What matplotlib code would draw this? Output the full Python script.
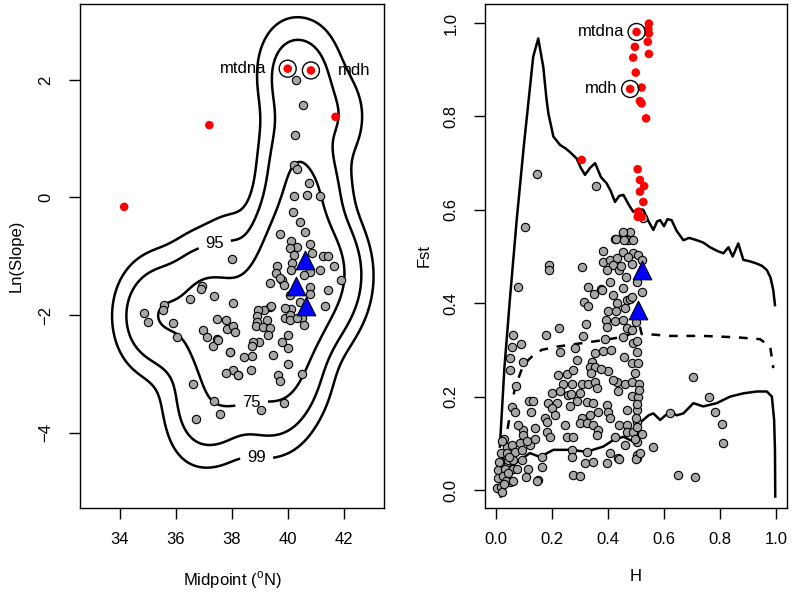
import matplotlib
matplotlib.use("Agg")
import matplotlib.pyplot as plt
import numpy as np

plt.rcParams['font.family'] = ['Liberation Sans', 'DejaVu Sans']
plt.rcParams['mathtext.fontset'] = 'custom'
plt.rcParams['mathtext.rm'] = 'Liberation Sans'

# ---- left panel: cline midpoint vs ln(slope) ----
mid_gray = [40.29, 40.52, 40.25, 40.23, 40.31, 40.75, 40.21, 40.67, 41.14, 40.19,
            40.43, 40.61, 39.71, 40.10, 40.31, 40.79, 40.07, 40.23, 40.87, 41.24,
            41.42, 40.13, 39.62, 39.57, 41.14, 41.64, 40.79, 40.57, 41.88, 39.77,
            39.87, 39.36, 40.79, 40.79, 41.42, 40.43, 41.32, 40.10, 39.36, 39.15,
            38.92, 39.38, 39.89, 40.07, 40.07, 40.49, 40.57, 38.90, 38.88, 39.24,
            38.85, 39.10, 39.36, 39.27, 39.99, 39.77, 40.01, 38.96, 38.74, 38.70,
            39.48, 38.70, 38.44, 40.01, 38.68, 39.65, 39.71, 40.49, 38.05, 37.79,
            38.20, 37.93, 38.05, 37.48, 37.77, 37.81, 38.02, 38.11, 36.98, 37.10,
            37.48, 37.33, 37.37, 36.92, 36.89, 36.50, 35.58, 35.55, 34.86, 35.01,
            35.90, 36.02, 36.62, 37.36, 36.71, 37.57, 39.03, 39.86, 37.99, 37.51,
            37.94, 38.22, 39.71, 40.11, 40.07, 39.89, 40.31]
slope_gray = [1.99, 1.57, 1.06, 0.56, 0.48, 0.24, 0.02, 0.04, 0.02, -0.25,
              -0.42, -0.58, -0.62, -0.74, -0.84, -0.79, -0.86, -0.97, -0.94, -1.00,
              -1.00, -1.11, -1.17, -1.29, -1.23, -1.17, -1.26, -1.31, -1.41, -1.40,
              -1.48, -1.45, -1.52, -1.64, -1.58, -1.77, -1.85, -1.90, -1.86, -1.91,
              -1.91, -1.84, -2.05, -1.99, -2.09, -2.05, -2.16, -2.02, -2.11, -2.08,
              -2.19, -2.20, -2.22, -2.33, -2.33, -2.46, -2.56, -2.45, -2.45, -2.53,
              -2.67, -2.70, -2.72, -2.83, -2.94, -3.02, -3.12, -3.00, -2.93, -2.98,
              -3.02, -2.63, -1.79, -2.06, -2.08, -2.24, -2.19, -2.29, -2.26, -2.37,
              -2.41, -2.53, -1.68, -1.50, -1.56, -1.72, -1.83, -1.91, -1.97, -2.12,
              -2.13, -2.37, -3.17, -3.46, -3.76, -3.68, -3.62, -3.50, -1.04, -2.42,
              -2.62, -3.02, -1.37, -1.23, -1.65, -1.88, -2.05]
mid_red = [39.99, 40.82, 41.70, 37.19, 34.15]
slope_red = [2.19, 2.16, 1.37, 1.23, -0.16]
mid_tri = [40.61, 40.29, 40.64]
slope_tri = [-1.07, -1.51, -1.85]
left_labels = ['mtdna', 'mdh']
contour_pct = [99, 95, 75]

# ---- right panel: H vs Fst ----
h_gray = [0.104, 0.190, 0.190, 0.306, 0.080, 0.330, 0.374, 0.425, 0.452, 0.479,
          0.470, 0.490, 0.383, 0.455, 0.490, 0.508, 0.381, 0.407, 0.431, 0.419,
          0.485, 0.395, 0.440, 0.464, 0.502, 0.407, 0.455, 0.419, 0.520, 0.431,
          0.467, 0.479, 0.401, 0.429, 0.461, 0.315, 0.330, 0.393, 0.425, 0.395,
          0.455, 0.467, 0.485, 0.321, 0.225, 0.177, 0.062, 0.058, 0.088, 0.312,
          0.282, 0.389, 0.455, 0.490, 0.502, 0.383, 0.354, 0.229, 0.050, 0.098,
          0.288, 0.342, 0.457, 0.485, 0.508, 0.336, 0.354,
          0.050, 0.223, 0.252, 0.276, 0.238, 0.270, 0.306, 0.330, 0.354, 0.399,
          0.431, 0.461, 0.485, 0.419, 0.512, 0.071, 0.199, 0.229, 0.258, 0.300,
          0.360, 0.437, 0.485, 0.508, 0.119, 0.133, 0.187, 0.217, 0.264, 0.324,
          0.348, 0.395, 0.057, 0.068, 0.124, 0.199, 0.365, 0.401, 0.467, 0.502,
          0.175, 0.306, 0.336, 0.407, 0.181, 0.300, 0.324, 0.348, 0.365, 0.440,
          0.467, 0.502, 0.095, 0.139, 0.098, 0.181, 0.193, 0.252, 0.276, 0.360,
          0.425, 0.467, 0.490, 0.520, 0.038, 0.056, 0.086, 0.121, 0.018, 0.038,
          0.068, 0.092, 0.014, 0.044, 0.062, 0.092, 0.008, 0.032, 0.062, 0.074,
          0.008, 0.026, 0.044, 0.002, 0.017, 0.020, 0.050, 0.115, 0.151, 0.106,
          0.163, 0.163, 0.270, 0.270, 0.276, 0.300, 0.318, 0.348, 0.324, 0.395,
          0.407, 0.437, 0.502, 0.502, 0.461, 0.502,
          0.560, 0.651, 0.711, 0.702, 0.762, 0.782, 0.806, 0.812, 0.621, 0.500,
          0.439, 0.145, 0.356, 0.455, 0.428, 0.458, 0.526, 0.520, 0.377, 0.485,
          0.500, 0.505, 0.498, 0.510, 0.505, 0.500, 0.505, 0.497, 0.515, 0.148,
          0.030, 0.045, 0.022, 0.080, 0.036, 0.110, 0.140, 0.060, 0.012, 0.028,
          0.210, 0.245, 0.290, 0.340, 0.375, 0.410, 0.445, 0.470, 0.350, 0.268]
fst_gray = [0.564, 0.482, 0.471, 0.478, 0.435, 0.435, 0.430, 0.537, 0.550, 0.553,
            0.535, 0.535, 0.512, 0.510, 0.508, 0.503, 0.489, 0.492, 0.496, 0.482,
            0.485, 0.471, 0.471, 0.457, 0.446, 0.446, 0.433, 0.418, 0.425, 0.400,
            0.407, 0.410, 0.383, 0.384, 0.389, 0.403, 0.394, 0.364, 0.362, 0.350,
            0.364, 0.346, 0.343, 0.355, 0.348, 0.333, 0.332, 0.307, 0.312, 0.330,
            0.305, 0.323, 0.328, 0.314, 0.296, 0.298, 0.293, 0.295, 0.282, 0.275,
            0.278, 0.275, 0.285, 0.271, 0.271, 0.264, 0.264,
            0.257, 0.246, 0.248, 0.257, 0.228, 0.227, 0.227, 0.227, 0.232, 0.255,
            0.232, 0.228, 0.232, 0.236, 0.228, 0.223, 0.208, 0.213, 0.203, 0.207,
            0.218, 0.211, 0.201, 0.200, 0.191, 0.191, 0.186, 0.186, 0.180, 0.189,
            0.187, 0.181, 0.178, 0.168, 0.166, 0.175, 0.168, 0.168, 0.171, 0.171,
            0.154, 0.154, 0.161, 0.154, 0.146, 0.143, 0.144, 0.139, 0.128, 0.139,
            0.139, 0.146, 0.128, 0.132, 0.118, 0.125, 0.113, 0.113, 0.113, 0.118,
            0.114, 0.125, 0.125, 0.120, 0.093, 0.096, 0.100, 0.096, 0.079, 0.079,
            0.082, 0.086, 0.057, 0.064, 0.064, 0.064, 0.043, 0.046, 0.046, 0.046,
            0.025, 0.029, 0.036, 0.004, 0.007, -0.004, 0.018, 0.046, 0.021, 0.027,
            0.050, 0.071, 0.086, 0.071, 0.032, 0.029, 0.057, 0.061, 0.082, 0.057,
            0.079, 0.068, 0.068, 0.075, 0.096, 0.103,
            0.093, 0.032, 0.027, 0.243, 0.200, 0.168, 0.141, 0.100, 0.164, 0.066,
            0.066, 0.677, 0.652, 0.553, 0.537, 0.535, 0.582, 0.492, 0.428, 0.414,
            0.360, 0.320, 0.250, 0.215, 0.185, 0.155, 0.135, 0.110, 0.080, 0.020,
            0.110, 0.070, 0.105, 0.140, 0.020, 0.105, 0.110, 0.020, 0.060, 0.012,
            0.160, 0.140, 0.190, 0.250, 0.260, 0.300, 0.480, 0.500, 0.420, 0.205]
h_red = [0.502, 0.479, 0.546, 0.544, 0.546, 0.542, 0.496, 0.546, 0.490, 0.499,
         0.520, 0.514, 0.520, 0.536, 0.306, 0.506, 0.514, 0.529, 0.514, 0.526,
         0.508, 0.506, 0.520]
fst_red = [0.981, 0.859, 0.999, 0.988, 0.978, 0.960, 0.949, 0.934, 0.926, 0.894,
           0.862, 0.833, 0.828, 0.796, 0.707, 0.687, 0.664, 0.651, 0.639, 0.617,
           0.596, 0.585, 0.585]
h_tri = [0.520, 0.508]
fst_tri = [0.471, 0.385]

# simulated quantile envelopes
upper_h = [0.014, 0.030, 0.050, 0.074, 0.100, 0.133, 0.151, 0.169, 0.180, 0.187,
           0.205, 0.229, 0.250, 0.264, 0.288, 0.303, 0.318, 0.336, 0.354, 0.375,
           0.395, 0.410, 0.425, 0.440, 0.455, 0.475, 0.490, 0.510, 0.526, 0.545,
           0.562, 0.575, 0.586, 0.600, 0.612, 0.627, 0.645, 0.669, 0.690, 0.717,
           0.740, 0.764, 0.790, 0.812, 0.830, 0.845, 0.865, 0.883, 0.905, 0.931,
           0.950, 0.967, 0.980, 0.990, 0.996]
upper_f = [0.093, 0.260, 0.410, 0.578, 0.740, 0.928, 0.967, 0.906, 0.840, 0.807,
           0.757, 0.739, 0.731, 0.724, 0.710, 0.690, 0.675, 0.690, 0.700, 0.670,
           0.657, 0.640, 0.617, 0.630, 0.632, 0.610, 0.596, 0.602, 0.600, 0.575,
           0.557, 0.575, 0.578, 0.565, 0.580, 0.578, 0.555, 0.535, 0.540, 0.535,
           0.530, 0.520, 0.512, 0.507, 0.520, 0.500, 0.528, 0.493, 0.490, 0.485,
           0.480, 0.471, 0.455, 0.428, 0.396]
median_h = [0.012, 0.025, 0.044, 0.068, 0.098, 0.127, 0.163, 0.217, 0.300, 0.383,
            0.443, 0.490, 0.505, 0.514, 0.520, 0.538, 0.621, 0.740, 0.860, 0.943,
            0.979, 0.990]
median_f = [0.020, 0.070, 0.140, 0.220, 0.268, 0.285, 0.300, 0.307, 0.314, 0.321,
            0.327, 0.336, 0.345, 0.350, 0.334, 0.334, 0.330, 0.330, 0.327, 0.323,
            0.307, 0.261]
lower_h = [0.017, 0.026, 0.050, 0.086, 0.121, 0.157, 0.205, 0.264, 0.324, 0.383,
           0.419, 0.455, 0.479, 0.502, 0.508, 0.526, 0.545, 0.562, 0.586, 0.621,
           0.645, 0.669, 0.705, 0.740, 0.788, 0.836, 0.883, 0.931, 0.967, 0.985,
           0.993, 0.996, 0.997]
lower_f = [-0.014, 0.021, 0.050, 0.064, 0.079, 0.071, 0.086, 0.086, 0.082, 0.093,
           0.107, 0.114, 0.107, 0.100, 0.143, 0.150, 0.160, 0.164, 0.150, 0.168,
           0.160, 0.164, 0.186, 0.179, 0.186, 0.200, 0.207, 0.211, 0.211, 0.200,
           0.150, 0.086, -0.014]

GRAY = '#a6a6a6'
FS = 12
fig = plt.figure(figsize=(7.92, 5.93), dpi=100)
ax1 = fig.add_axes([0.1010, 0.1433, 0.3838, 0.8500])
ax2 = fig.add_axes([0.6124, 0.1433, 0.3813, 0.8500])

# kernel density of the clines -> highest-density contours
kx = np.array(mid_gray + mid_tri + mid_red[:3])
ky = np.array(slope_gray + slope_tri + slope_red[:3])
gx, gy = np.meshgrid(np.linspace(32.5, 43.5, 300), np.linspace(-5.3, 3.3, 300))
hx, hy = 0.62, 0.46
dens = np.zeros_like(gx)
for xi, yi in zip(kx, ky):
    dens += np.exp(-0.5 * ((gx - xi) / hx) ** 2 - 0.5 * ((gy - yi) / hy) ** 2)
zs = np.sort(dens.ravel())[::-1]
cum = np.cumsum(zs) / zs.sum()
label_pos = {99: (38.9, -4.3), 95: (37.6, -1.2), 75: (38.6, -3.2)}
for p in contour_pct:
    lv = zs[np.searchsorted(cum, p / 100)]
    cs = ax1.contour(gx, gy, dens, levels=[lv], colors='black', linewidths=1.8)
    ax1.clabel(cs, fmt={lv: str(p)}, fontsize=12, inline=True,
               inline_spacing=7, manual=[label_pos[p]])
    for t in cs.labelTexts:
        t.set_rotation(0)

ax1.scatter(mid_gray, slope_gray, s=36, c=GRAY, edgecolors='black', linewidths=0.8, zorder=3)
ax1.scatter(mid_tri, slope_tri, s=180, marker='^', c='#0000ff', edgecolors='black',
            linewidths=0.8, zorder=4)
ax1.scatter(mid_red, slope_red, s=38, c='#ff0000', edgecolors='none', zorder=4)
ax1.scatter(mid_red[:2], slope_red[:2], s=150, facecolors='none', edgecolors='black',
            linewidths=1.0, zorder=5)
ax1.text(mid_red[0] - 0.75, slope_red[0], left_labels[0], ha='right', va='center', fontsize=FS)
ax1.text(mid_red[1] + 0.95, slope_red[1], left_labels[1], ha='left', va='center', fontsize=FS)

ax1.set_xlim(32.57, 43.43)
ax1.set_ylim(-5.28, 3.29)
ax1.set_xticks([34, 36, 38, 40, 42])
ax1.set_yticks([-4, -2, 0, 2])
ax1.set_yticklabels(['\u22124', '\u22122', '0', '2'])
ax1.set_xlabel('Midpoint ($^{\\rm o}$N)', fontsize=FS, labelpad=16)
ax1.set_ylabel('Ln(Slope)', fontsize=FS, labelpad=11)

# Fst vs heterozygosity
ax2.plot(upper_h, upper_f, color='black', lw=1.8, zorder=2)
ax2.plot(median_h, median_f, color='black', lw=1.8, dashes=(3.5, 3.5), zorder=2)
ax2.plot(lower_h, lower_f, color='black', lw=1.8, zorder=2)
ax2.scatter(h_gray, fst_gray, s=36, c=GRAY, edgecolors='black', linewidths=0.8, zorder=3)
ax2.scatter(h_tri, fst_tri, s=180, marker='^', c='#0000ff', edgecolors='black',
            linewidths=0.8, zorder=4)
ax2.scatter(h_red, fst_red, s=38, c='#ff0000', edgecolors='none', zorder=4)
ax2.scatter(h_red[:2], fst_red[:2], s=150, facecolors='none', edgecolors='black',
            linewidths=1.0, zorder=5)
ax2.text(h_red[0] - 0.045, fst_red[0], left_labels[0], ha='right', va='center', fontsize=FS)
ax2.text(h_red[1] - 0.045, fst_red[1], left_labels[1], ha='right', va='center', fontsize=FS)

ax2.set_xlim(-0.039, 1.039)
ax2.set_ylim(-0.0386, 1.041)
ax2.set_xticks([0.0, 0.2, 0.4, 0.6, 0.8, 1.0])
ax2.set_yticks([0.0, 0.2, 0.4, 0.6, 0.8, 1.0])
ax2.set_xticklabels(['0.0', '0.2', '0.4', '0.6', '0.8', '1.0'])
ax2.set_yticklabels(['0.0', '0.2', '0.4', '0.6', '0.8', '1.0'])
ax2.set_xlabel('H', fontsize=FS, labelpad=16)
ax2.set_ylabel('Fst', fontsize=FS, labelpad=9)

for ax in (ax1, ax2):
    for sp in ax.spines.values():
        sp.set_linewidth(1.0)
    ax.tick_params(direction='out', length=8, width=1.0, labelsize=FS)
    ax.tick_params(axis='x', pad=9)
    ax.tick_params(axis='y', pad=11)
    for lab in ax.get_yticklabels():
        lab.set_rotation(90)
        lab.set_va('center')

fig.savefig('out.png', dpi=100)
